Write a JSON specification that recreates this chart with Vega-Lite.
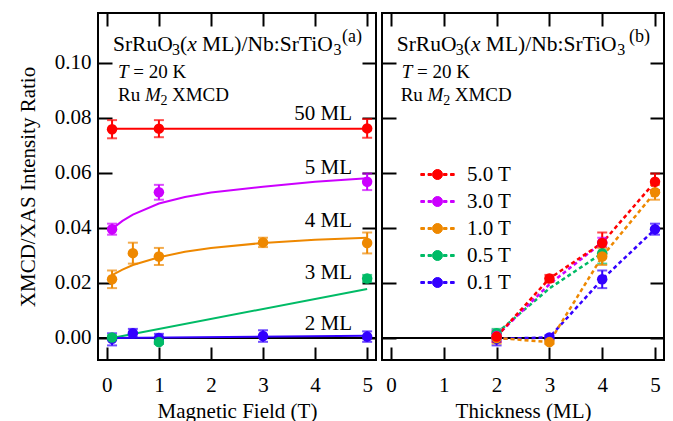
{
  "$schema": "https://vega.github.io/schema/vega-lite/v6.json",
  "padding": {"left": 16, "top": 11, "right": 8, "bottom": 1},
  "spacing": 6,
  "bounds": "flush",
  "datasets": {
    "ptsA": [
      {"s": "50 ML", "B": 0.1, "r": 0.0758, "lo": 0.0725, "hi": 0.0791},
      {"s": "50 ML", "B": 1, "r": 0.0760, "lo": 0.0729, "hi": 0.0791},
      {"s": "50 ML", "B": 5, "r": 0.0761, "lo": 0.0727, "hi": 0.0795},
      {"s": "5 ML", "B": 0.1, "r": 0.0395, "lo": 0.0375, "hi": 0.0415},
      {"s": "5 ML", "B": 1, "r": 0.0529, "lo": 0.0502, "hi": 0.0556},
      {"s": "5 ML", "B": 5, "r": 0.0567, "lo": 0.0537, "hi": 0.0597},
      {"s": "4 ML", "B": 0.1, "r": 0.0213, "lo": 0.0181, "hi": 0.0245},
      {"s": "4 ML", "B": 0.5, "r": 0.0308, "lo": 0.0270, "hi": 0.0346},
      {"s": "4 ML", "B": 1, "r": 0.0296, "lo": 0.0265, "hi": 0.0327},
      {"s": "4 ML", "B": 3, "r": 0.0347, "lo": 0.0330, "hi": 0.0364},
      {"s": "4 ML", "B": 5, "r": 0.0345, "lo": 0.0307, "hi": 0.0383},
      {"s": "2 ML", "B": 0.1, "r": -0.0003, "lo": -0.0027, "hi": 0.0017},
      {"s": "2 ML", "B": 0.5, "r": 0.0017, "lo": 0.0003, "hi": 0.0033},
      {"s": "2 ML", "B": 1, "r": 0.0, "lo": -0.002, "hi": 0.0015},
      {"s": "2 ML", "B": 3, "r": 0.0007, "lo": -0.0014, "hi": 0.0028},
      {"s": "2 ML", "B": 5, "r": 0.0005, "lo": -0.0014, "hi": 0.0024},
      {"s": "3 ML", "B": 0.1, "r": 0.0002, "lo": -0.0006, "hi": 0.001},
      {"s": "3 ML", "B": 1, "r": -0.0015, "lo": -0.0022, "hi": -0.0008},
      {"s": "3 ML", "B": 5, "r": 0.0216, "lo": 0.0203, "hi": 0.0229}
    ],
    "fitA": [
      {"s": "50 ML", "B": 0.1, "r": 0.076},
      {"s": "50 ML", "B": 5, "r": 0.076},
      {"s": "5 ML", "B": 0.1, "r": 0.0396},
      {"s": "5 ML", "B": 0.3, "r": 0.0425},
      {"s": "5 ML", "B": 0.5, "r": 0.0448},
      {"s": "5 ML", "B": 1, "r": 0.0488},
      {"s": "5 ML", "B": 1.5, "r": 0.0512},
      {"s": "5 ML", "B": 2, "r": 0.0528},
      {"s": "5 ML", "B": 3, "r": 0.0549},
      {"s": "5 ML", "B": 4, "r": 0.0567},
      {"s": "5 ML", "B": 5, "r": 0.058},
      {"s": "4 ML", "B": 0.1, "r": 0.0228},
      {"s": "4 ML", "B": 0.3, "r": 0.0248},
      {"s": "4 ML", "B": 0.5, "r": 0.0265},
      {"s": "4 ML", "B": 1, "r": 0.0293},
      {"s": "4 ML", "B": 1.5, "r": 0.0313},
      {"s": "4 ML", "B": 2, "r": 0.0327},
      {"s": "4 ML", "B": 3, "r": 0.0345},
      {"s": "4 ML", "B": 4, "r": 0.0357},
      {"s": "4 ML", "B": 5, "r": 0.0364},
      {"s": "3 ML", "B": 0.1, "r": 0.0},
      {"s": "3 ML", "B": 5, "r": 0.0178},
      {"s": "2 ML", "B": 0.1, "r": 0.0},
      {"s": "2 ML", "B": 5, "r": 0.0008}
    ],
    "ptsB": [
      {"f": "0.1 T", "t": 2, "r": -0.0003, "lo": -0.0027, "hi": 0.0017},
      {"f": "0.1 T", "t": 3, "r": 0.0002, "lo": -0.0006, "hi": 0.001},
      {"f": "0.1 T", "t": 4, "r": 0.0213, "lo": 0.0181, "hi": 0.0245},
      {"f": "0.1 T", "t": 5, "r": 0.0395, "lo": 0.0375, "hi": 0.0415},
      {"f": "0.5 T", "t": 2, "r": 0.0017, "lo": 0.0003, "hi": 0.0033},
      {"f": "0.5 T", "t": 3, "r": 0.018, "lo": null, "hi": null},
      {"f": "0.5 T", "t": 4, "r": 0.0308, "lo": 0.027, "hi": 0.0346},
      {"f": "1.0 T", "t": 2, "r": 0.0, "lo": -0.002, "hi": 0.0015},
      {"f": "1.0 T", "t": 3, "r": -0.0015, "lo": -0.0022, "hi": -0.0008},
      {"f": "1.0 T", "t": 4, "r": 0.0296, "lo": 0.0265, "hi": 0.0327},
      {"f": "1.0 T", "t": 5, "r": 0.0529, "lo": 0.0502, "hi": 0.0556},
      {"f": "3.0 T", "t": 2, "r": 0.0007, "lo": -0.0014, "hi": 0.0028},
      {"f": "3.0 T", "t": 3, "r": 0.0195, "lo": null, "hi": null},
      {"f": "3.0 T", "t": 4, "r": 0.0347, "lo": 0.033, "hi": 0.0364},
      {"f": "5.0 T", "t": 2, "r": 0.0005, "lo": -0.0014, "hi": 0.0024},
      {"f": "5.0 T", "t": 3, "r": 0.0216, "lo": 0.0203, "hi": 0.0229},
      {"f": "5.0 T", "t": 4, "r": 0.0345, "lo": 0.0307, "hi": 0.0383},
      {"f": "5.0 T", "t": 5, "r": 0.0567, "lo": 0.0537, "hi": 0.0597}
    ]
  },
  "resolve": {"scale": {"color": "independent", "x": "independent", "y": "independent"}, "legend": {"color": "independent"}},
  "hconcat": [
    {
      "width": 278,
      "height": 347,
      "resolve": {"axis": {"x": "independent", "y": "independent"}},
      "layer": [
        {
          "data": {"values": [{}]},
          "mark": {"type": "rule", "color": "black", "strokeWidth": 2},
          "encoding": {
            "y": {"datum": 0, "type": "quantitative", "scale": {"domain": [-0.008, 0.118], "nice": false, "zero": false},
              "axis": {"orient": "left", "values": [0, 0.02, 0.04, 0.06, 0.08, 0.1], "format": ".2f", "tickSize": -14, "labelPadding": 21, "title": "XMCD/XAS Intensity Ratio", "titlePadding": 16}}
          }
        },
        {
          "data": {"name": "fitA"},
          "mark": {"type": "line", "strokeWidth": 2},
          "encoding": {
            "x": {"field": "B", "type": "quantitative", "scale": {"domain": [-0.17, 5.17], "nice": false, "zero": false},
              "axis": {"orient": "top", "values": [0, 1, 2, 3, 4, 5], "labels": false, "title": null, "tickSize": -13}},
            "y": {"field": "r", "type": "quantitative", "scale": {"domain": [-0.008, 0.118], "nice": false, "zero": false},
              "axis": {"orient": "right", "values": [0, 0.02, 0.04, 0.06, 0.08, 0.1], "labels": false, "title": null, "tickSize": -14}},
            "color": {"field": "s", "type": "nominal", "scale": {"domain": ["50 ML", "5 ML", "4 ML", "3 ML", "2 ML"], "range": ["#FF0000", "#CC00FF", "#EE8800", "#00BB66", "#3300FF"]}, "legend": null}
          }
        },
        {
          "data": {"name": "ptsA"},
          "mark": {"type": "errorbar", "ticks": true, "size": 10, "thickness": 2},
          "encoding": {
            "x": {"field": "B", "type": "quantitative", "scale": {"domain": [-0.17, 5.17], "nice": false, "zero": false}, "axis": null},
            "y": {"field": "lo", "type": "quantitative", "scale": {"domain": [-0.008, 0.118], "nice": false, "zero": false}, "axis": null},
            "y2": {"field": "hi"},
            "color": {"field": "s", "type": "nominal", "scale": {"domain": ["50 ML", "5 ML", "4 ML", "3 ML", "2 ML"], "range": ["#FF0000", "#CC00FF", "#EE8800", "#00BB66", "#3300FF"]}, "legend": null}
          }
        },
        {
          "data": {"name": "ptsA"},
          "mark": {"type": "point", "shape": "circle", "filled": true, "size": 110, "opacity": 1},
          "encoding": {
            "x": {"field": "B", "type": "quantitative", "scale": {"domain": [-0.17, 5.17], "nice": false, "zero": false},
              "axis": {"orient": "bottom", "values": [0, 1, 2, 3, 4, 5], "tickSize": -13, "labelPadding": 27, "title": "Magnetic Field (T)", "titlePadding": 5}},
            "y": {"field": "r", "type": "quantitative", "scale": {"domain": [-0.008, 0.118], "nice": false, "zero": false}, "axis": null},
            "color": {"field": "s", "type": "nominal", "scale": {"domain": ["50 ML", "5 ML", "4 ML", "3 ML", "2 ML"], "range": ["#FF0000", "#CC00FF", "#EE8800", "#00BB66", "#3300FF"]}, "legend": null}
          }
        },
        {"data": {"values": [{}]}, "mark": {"type": "text", "text": "SrRuO", "fontSize": 21.5},
          "encoding": {"x": {"datum": 0.1181, "scale": {"domain": [-0.17, 5.17], "nice": false, "zero": false}, "axis": null}, "y": {"datum": 0.1042, "scale": {"domain": [-0.008, 0.118], "nice": false, "zero": false}, "axis": null}}},
        {"data": {"values": [{}]}, "mark": {"type": "text", "text": "3", "fontSize": 16},
          "encoding": {"x": {"datum": 1.2515, "scale": {"domain": [-0.17, 5.17], "nice": false, "zero": false}, "axis": null}, "y": {"datum": 0.10257, "scale": {"domain": [-0.008, 0.118], "nice": false, "zero": false}, "axis": null}}},
        {"data": {"values": [{}]}, "mark": {"type": "text", "text": "(", "fontSize": 21.5},
          "encoding": {"x": {"datum": 1.4051, "scale": {"domain": [-0.17, 5.17], "nice": false, "zero": false}, "axis": null}, "y": {"datum": 0.1042, "scale": {"domain": [-0.008, 0.118], "nice": false, "zero": false}, "axis": null}}},
        {"data": {"values": [{}]}, "mark": {"type": "text", "text": "x", "fontSize": 21.5, "fontStyle": "italic"},
          "encoding": {"x": {"datum": 1.5434, "scale": {"domain": [-0.17, 5.17], "nice": false, "zero": false}, "axis": null}, "y": {"datum": 0.1042, "scale": {"domain": [-0.008, 0.118], "nice": false, "zero": false}, "axis": null}}},
        {"data": {"values": [{}]}, "mark": {"type": "text", "text": "ML)/Nb:SrTiO", "fontSize": 21.5},
          "encoding": {"x": {"datum": 1.8297, "scale": {"domain": [-0.17, 5.17], "nice": false, "zero": false}, "axis": null}, "y": {"datum": 0.1042, "scale": {"domain": [-0.008, 0.118], "nice": false, "zero": false}, "axis": null}}},
        {"data": {"values": [{}]}, "mark": {"type": "text", "text": "3", "fontSize": 16},
          "encoding": {"x": {"datum": 4.3537, "scale": {"domain": [-0.17, 5.17], "nice": false, "zero": false}, "axis": null}, "y": {"datum": 0.10257, "scale": {"domain": [-0.008, 0.118], "nice": false, "zero": false}, "axis": null}}},
        {"data": {"values": [{}]}, "mark": {"type": "text", "text": "(a)", "fontSize": 18},
          "encoding": {"x": {"datum": 4.517, "scale": {"domain": [-0.17, 5.17], "nice": false, "zero": false}, "axis": null}, "y": {"datum": 0.10747, "scale": {"domain": [-0.008, 0.118], "nice": false, "zero": false}, "axis": null}}},
        {"data": {"values": [{}]}, "mark": {"type": "text", "text": "T", "fontSize": 19, "fontStyle": "italic"},
          "encoding": {"x": {"datum": 0.2142, "scale": {"domain": [-0.17, 5.17], "nice": false, "zero": false}, "axis": null}, "y": {"datum": 0.0944, "scale": {"domain": [-0.008, 0.118], "nice": false, "zero": false}, "axis": null}}},
        {"data": {"values": [{}]}, "mark": {"type": "text", "text": "= 20 K", "fontSize": 19},
          "encoding": {"x": {"datum": 0.5081, "scale": {"domain": [-0.17, 5.17], "nice": false, "zero": false}, "axis": null}, "y": {"datum": 0.0944, "scale": {"domain": [-0.008, 0.118], "nice": false, "zero": false}, "axis": null}}},
        {"data": {"values": [{}]}, "mark": {"type": "text", "text": "Ru", "fontSize": 19},
          "encoding": {"x": {"datum": 0.2142, "scale": {"domain": [-0.17, 5.17], "nice": false, "zero": false}, "axis": null}, "y": {"datum": 0.08594, "scale": {"domain": [-0.008, 0.118], "nice": false, "zero": false}, "axis": null}}},
        {"data": {"values": [{}]}, "mark": {"type": "text", "text": "M", "fontSize": 19, "fontStyle": "italic"},
          "encoding": {"x": {"datum": 0.7309, "scale": {"domain": [-0.17, 5.17], "nice": false, "zero": false}, "axis": null}, "y": {"datum": 0.08594, "scale": {"domain": [-0.008, 0.118], "nice": false, "zero": false}, "axis": null}}},
        {"data": {"values": [{}]}, "mark": {"type": "text", "text": "2", "fontSize": 14},
          "encoding": {"x": {"datum": 1.0306, "scale": {"domain": [-0.17, 5.17], "nice": false, "zero": false}, "axis": null}, "y": {"datum": 0.08459, "scale": {"domain": [-0.008, 0.118], "nice": false, "zero": false}, "axis": null}}},
        {"data": {"values": [{}]}, "mark": {"type": "text", "text": "XMCD", "fontSize": 19},
          "encoding": {"x": {"datum": 1.2515, "scale": {"domain": [-0.17, 5.17], "nice": false, "zero": false}, "axis": null}, "y": {"datum": 0.08594, "scale": {"domain": [-0.008, 0.118], "nice": false, "zero": false}, "axis": null}}},
        {"data": {"values": [{}]}, "mark": {"type": "text", "text": "50 ML", "fontSize": 21, "align": "right"},
          "encoding": {"x": {"datum": 4.709, "scale": {"domain": [-0.17, 5.17], "nice": false, "zero": false}, "axis": null}, "y": {"datum": 0.07904, "scale": {"domain": [-0.008, 0.118], "nice": false, "zero": false}, "axis": null}}},
        {"data": {"values": [{}]}, "mark": {"type": "text", "text": "5 ML", "fontSize": 21, "align": "right"},
          "encoding": {"x": {"datum": 4.709, "scale": {"domain": [-0.17, 5.17], "nice": false, "zero": false}, "axis": null}, "y": {"datum": 0.05965, "scale": {"domain": [-0.008, 0.118], "nice": false, "zero": false}, "axis": null}}},
        {"data": {"values": [{}]}, "mark": {"type": "text", "text": "4 ML", "fontSize": 21, "align": "right"},
          "encoding": {"x": {"datum": 4.709, "scale": {"domain": [-0.17, 5.17], "nice": false, "zero": false}, "axis": null}, "y": {"datum": 0.0403, "scale": {"domain": [-0.008, 0.118], "nice": false, "zero": false}, "axis": null}}},
        {"data": {"values": [{}]}, "mark": {"type": "text", "text": "3 ML", "fontSize": 21, "align": "right"},
          "encoding": {"x": {"datum": 4.709, "scale": {"domain": [-0.17, 5.17], "nice": false, "zero": false}, "axis": null}, "y": {"datum": 0.02152, "scale": {"domain": [-0.008, 0.118], "nice": false, "zero": false}, "axis": null}}},
        {"data": {"values": [{}]}, "mark": {"type": "text", "text": "2 ML", "fontSize": 21, "align": "right"},
          "encoding": {"x": {"datum": 4.709, "scale": {"domain": [-0.17, 5.17], "nice": false, "zero": false}, "axis": null}, "y": {"datum": 0.00279, "scale": {"domain": [-0.008, 0.118], "nice": false, "zero": false}, "axis": null}}}
      ]
    },
    {
      "width": 282,
      "height": 347,
      "resolve": {"axis": {"x": "independent", "y": "independent"}},
      "layer": [
        {
          "data": {"values": [{}]},
          "mark": {"type": "rule", "color": "black", "strokeWidth": 2},
          "encoding": {
            "y": {"datum": 0, "type": "quantitative", "scale": {"domain": [-0.008, 0.118], "nice": false, "zero": false},
              "axis": {"orient": "left", "values": [0, 0.02, 0.04, 0.06, 0.08, 0.1], "labels": false, "title": null, "tickSize": -14}}
          }
        },
        {
          "data": {"name": "ptsB"},
          "mark": {"type": "line", "strokeWidth": 2.5, "strokeDash": [4, 3]},
          "encoding": {
            "x": {"field": "t", "type": "quantitative", "scale": {"domain": [-0.17, 5.17], "nice": false, "zero": false},
              "axis": {"orient": "top", "values": [0, 1, 2, 3, 4, 5], "labels": false, "title": null, "tickSize": -13}},
            "y": {"field": "r", "type": "quantitative", "scale": {"domain": [-0.008, 0.118], "nice": false, "zero": false},
              "axis": {"orient": "right", "values": [0, 0.02, 0.04, 0.06, 0.08, 0.1], "labels": false, "title": null, "tickSize": -14}},
            "color": {"field": "f", "type": "nominal", "scale": {"domain": ["5.0 T", "3.0 T", "1.0 T", "0.5 T", "0.1 T"], "range": ["#FF0000", "#CC00FF", "#EE8800", "#00BB66", "#3300FF"]}}
          }
        },
        {
          "data": {"name": "ptsB"},
          "transform": [{"filter": "isValid(datum.lo)"}],
          "mark": {"type": "errorbar", "ticks": true, "size": 10, "thickness": 2},
          "encoding": {
            "x": {"field": "t", "type": "quantitative", "scale": {"domain": [-0.17, 5.17], "nice": false, "zero": false}, "axis": null},
            "y": {"field": "lo", "type": "quantitative", "scale": {"domain": [-0.008, 0.118], "nice": false, "zero": false}, "axis": null},
            "y2": {"field": "hi"},
            "color": {"field": "f", "type": "nominal", "scale": {"domain": ["5.0 T", "3.0 T", "1.0 T", "0.5 T", "0.1 T"], "range": ["#FF0000", "#CC00FF", "#EE8800", "#00BB66", "#3300FF"]}}
          }
        },
        {
          "data": {"name": "ptsB"},
          "transform": [{"filter": "isValid(datum.lo)"}],
          "mark": {"type": "point", "shape": "circle", "filled": true, "size": 110, "opacity": 1},
          "encoding": {
            "x": {"field": "t", "type": "quantitative", "scale": {"domain": [-0.17, 5.17], "nice": false, "zero": false},
              "axis": {"orient": "bottom", "values": [0, 1, 2, 3, 4, 5], "tickSize": -13, "labelPadding": 27, "title": "Thickness (ML)", "titlePadding": 5}},
            "y": {"field": "r", "type": "quantitative", "scale": {"domain": [-0.008, 0.118], "nice": false, "zero": false}, "axis": null},
            "color": {"field": "f", "type": "nominal", "scale": {"domain": ["5.0 T", "3.0 T", "1.0 T", "0.5 T", "0.1 T"], "range": ["#FF0000", "#CC00FF", "#EE8800", "#00BB66", "#3300FF"]},
              "legend": {"title": null, "orient": "none", "legendX": 45, "legendY": 151, "padding": 0, "symbolType": "M-1.67,-0.1H-1.3V0.1H-1.67Z M-0.95,-0.1H-0.6V0.1H-0.95Z M0.6,-0.1H0.95V0.1H0.6Z M1.3,-0.1H1.67V0.1H1.3Z M-0.5,0A0.5,0.5,0,1,0,0.5,0A0.5,0.5,0,1,0,-0.5,0Z", "symbolSize": 400, "symbolStrokeWidth": 1, "symbolOpacity": 1, "labelOffset": 19, "rowPadding": 5, "labelFont": "Liberation Serif", "labelFontSize": 21, "labelColor": "black",
                "encode": {"symbols": {"update": {"opacity": {"value": 1}, "fillOpacity": {"value": 1}, "strokeOpacity": {"value": 1}}}}}}
          }
        },
        {"data": {"values": [{}]}, "mark": {"type": "text", "text": "SrRuO", "fontSize": 21.5},
          "encoding": {"x": {"datum": 0.1084, "scale": {"domain": [-0.17, 5.17], "nice": false, "zero": false}, "axis": null}, "y": {"datum": 0.1042, "scale": {"domain": [-0.008, 0.118], "nice": false, "zero": false}, "axis": null}}},
        {"data": {"values": [{}]}, "mark": {"type": "text", "text": "3", "fontSize": 16},
          "encoding": {"x": {"datum": 1.2256, "scale": {"domain": [-0.17, 5.17], "nice": false, "zero": false}, "axis": null}, "y": {"datum": 0.10257, "scale": {"domain": [-0.008, 0.118], "nice": false, "zero": false}, "axis": null}}},
        {"data": {"values": [{}]}, "mark": {"type": "text", "text": "(", "fontSize": 21.5},
          "encoding": {"x": {"datum": 1.3771, "scale": {"domain": [-0.17, 5.17], "nice": false, "zero": false}, "axis": null}, "y": {"datum": 0.1042, "scale": {"domain": [-0.008, 0.118], "nice": false, "zero": false}, "axis": null}}},
        {"data": {"values": [{}]}, "mark": {"type": "text", "text": "x", "fontSize": 21.5, "fontStyle": "italic"},
          "encoding": {"x": {"datum": 1.5134, "scale": {"domain": [-0.17, 5.17], "nice": false, "zero": false}, "axis": null}, "y": {"datum": 0.1042, "scale": {"domain": [-0.008, 0.118], "nice": false, "zero": false}, "axis": null}}},
        {"data": {"values": [{}]}, "mark": {"type": "text", "text": "ML)/Nb:SrTiO", "fontSize": 21.5},
          "encoding": {"x": {"datum": 1.7956, "scale": {"domain": [-0.17, 5.17], "nice": false, "zero": false}, "axis": null}, "y": {"datum": 0.1042, "scale": {"domain": [-0.008, 0.118], "nice": false, "zero": false}, "axis": null}}},
        {"data": {"values": [{}]}, "mark": {"type": "text", "text": "3", "fontSize": 16},
          "encoding": {"x": {"datum": 4.2838, "scale": {"domain": [-0.17, 5.17], "nice": false, "zero": false}, "axis": null}, "y": {"datum": 0.10257, "scale": {"domain": [-0.008, 0.118], "nice": false, "zero": false}, "axis": null}}},
        {"data": {"values": [{}]}, "mark": {"type": "text", "text": "(b)", "fontSize": 18},
          "encoding": {"x": {"datum": 4.507, "scale": {"domain": [-0.17, 5.17], "nice": false, "zero": false}, "axis": null}, "y": {"datum": 0.10747, "scale": {"domain": [-0.008, 0.118], "nice": false, "zero": false}, "axis": null}}},
        {"data": {"values": [{}]}, "mark": {"type": "text", "text": "T", "fontSize": 19, "fontStyle": "italic"},
          "encoding": {"x": {"datum": 0.203, "scale": {"domain": [-0.17, 5.17], "nice": false, "zero": false}, "axis": null}, "y": {"datum": 0.0944, "scale": {"domain": [-0.008, 0.118], "nice": false, "zero": false}, "axis": null}}},
        {"data": {"values": [{}]}, "mark": {"type": "text", "text": "= 20 K", "fontSize": 19},
          "encoding": {"x": {"datum": 0.4928, "scale": {"domain": [-0.17, 5.17], "nice": false, "zero": false}, "axis": null}, "y": {"datum": 0.0944, "scale": {"domain": [-0.008, 0.118], "nice": false, "zero": false}, "axis": null}}},
        {"data": {"values": [{}]}, "mark": {"type": "text", "text": "Ru", "fontSize": 19},
          "encoding": {"x": {"datum": 0.1841, "scale": {"domain": [-0.17, 5.17], "nice": false, "zero": false}, "axis": null}, "y": {"datum": 0.08594, "scale": {"domain": [-0.008, 0.118], "nice": false, "zero": false}, "axis": null}}},
        {"data": {"values": [{}]}, "mark": {"type": "text", "text": "M", "fontSize": 19, "fontStyle": "italic"},
          "encoding": {"x": {"datum": 0.6935, "scale": {"domain": [-0.17, 5.17], "nice": false, "zero": false}, "axis": null}, "y": {"datum": 0.08594, "scale": {"domain": [-0.008, 0.118], "nice": false, "zero": false}, "axis": null}}},
        {"data": {"values": [{}]}, "mark": {"type": "text", "text": "2", "fontSize": 14},
          "encoding": {"x": {"datum": 0.9889, "scale": {"domain": [-0.17, 5.17], "nice": false, "zero": false}, "axis": null}, "y": {"datum": 0.08459, "scale": {"domain": [-0.008, 0.118], "nice": false, "zero": false}, "axis": null}}},
        {"data": {"values": [{}]}, "mark": {"type": "text", "text": "XMCD", "fontSize": 19},
          "encoding": {"x": {"datum": 1.2066, "scale": {"domain": [-0.17, 5.17], "nice": false, "zero": false}, "axis": null}, "y": {"datum": 0.08594, "scale": {"domain": [-0.008, 0.118], "nice": false, "zero": false}, "axis": null}}}
      ]
    }
  ],
  "config": {
    "font": "Liberation Serif",
    "view": {"stroke": "black", "strokeWidth": 2},
    "axis": {"domain": false, "grid": false, "tickColor": "black", "tickWidth": 2, "labelFont": "Liberation Serif", "labelFontSize": 21, "labelColor": "black", "titleFont": "Liberation Serif", "titleFontSize": 21, "titleFontWeight": "normal", "titleColor": "black"},
    "text": {"font": "Liberation Serif", "color": "black", "align": "left", "baseline": "alphabetic"},
    "legend": {"labelFont": "Liberation Serif", "labelFontSize": 21, "labelColor": "black"}
  }
}
